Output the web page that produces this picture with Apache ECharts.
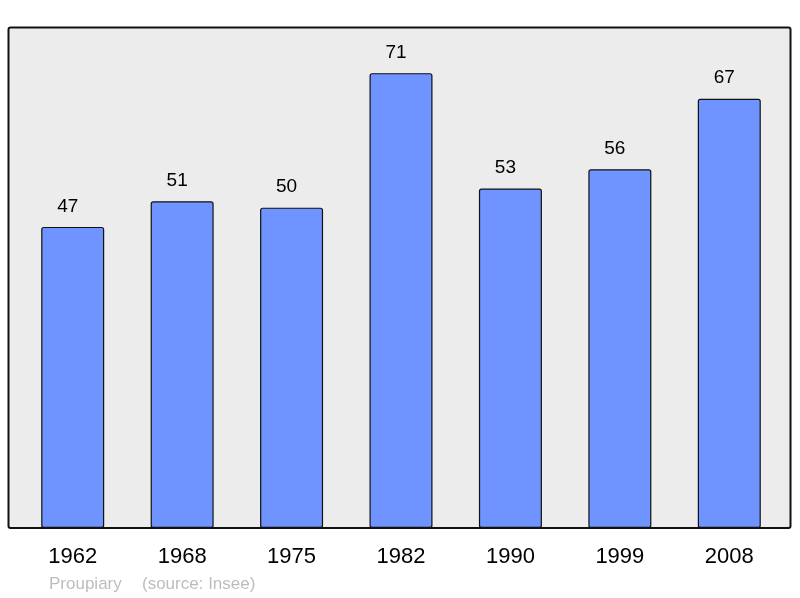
<!DOCTYPE html>
<html>
<head>
<meta charset="utf-8">
<script src="https://cdn.jsdelivr.net/npm/echarts@6/dist/echarts.min.js"></script>
<style>
  html, body { margin: 0; padding: 0; background: #fff; }
  #chart { width: 800px; height: 598px; }
</style>
</head>
<body>
<div id="chart"></div>
<script>
// données : population par recensement
var annees = ['1962', '1968', '1975', '1982', '1990', '1999', '2008']
var population = [47, 51, 50, 71, 53, 56, 67]
var nomCommune = 'Proupiary'
var source = '(source: Insee)'

var chartDom = document.getElementById('chart')
var myChart = echarts.init(chartDom)

var option = {
    animation: false,
    backgroundColor: '#ffffff',
    textStyle: { fontFamily: 'Liberation Sans, Arial, sans-serif' },
    grid: { left: 18, right: 16, top: 27, bottom: 70 },
    graphic: [
        // fond gris du cadre
        {
            type: 'rect', z: -10, silent: true,
            shape: { x: 8.5, y: 27.5, width: 782, height: 500.5, r: 2 },
            style: { fill: '#ececec', stroke: '#111', lineWidth: 2 }
        },
        {
            type: 'text', silent: true,
            style: { x: 49, y: 584, text: nomCommune, fill: '#bdbdbd', verticalAlign: 'middle', textVerticalAlign: 'middle', font: '17px Liberation Sans, Arial, sans-serif' }
        },
        {
            type: 'text', silent: true,
            style: { x: 142, y: 584, text: source, fill: '#bdbdbd', verticalAlign: 'middle', textVerticalAlign: 'middle', font: '17px Liberation Sans, Arial, sans-serif' }
        }
    ],
    xAxis: {
        type: 'category',
        data: annees,
        axisLine: { show: false },
        axisTick: { show: false },
        axisLabel: { color: '#000', fontSize: 22, margin: 18 }
    },
    yAxis: {
        type: 'value', min: 0, max: 78.2,
        show: false,
        splitLine: { show: false }
    },
    series: [{
        type: 'bar',
        data: population,
        barWidth: 63,
        itemStyle: { color: '#7094ff', borderColor: '#111', borderWidth: 1.2, borderRadius: 2 },
        label: { show: true, position: 'top', distance: 11, offset: [-5, 0], color: '#000', fontSize: 19 }
    }]
}

myChart.setOption(option)

window.onresize = function () {
    myChart.resize()
}
</script>
</body>
</html>
